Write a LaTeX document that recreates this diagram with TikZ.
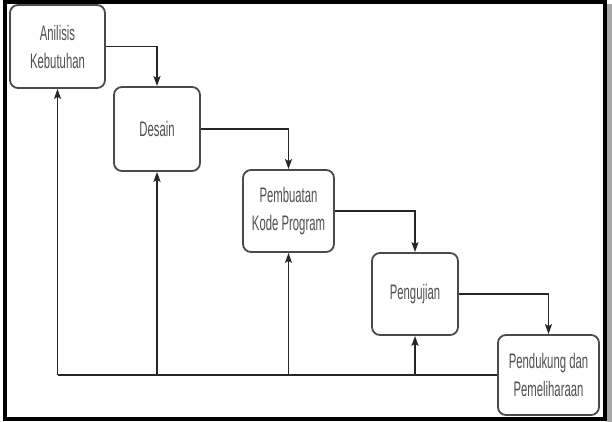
\documentclass[tikz,border=0pt]{standalone}
\usepackage{fontspec}
\setmainfont{Liberation Sans}[FakeStretch=0.54]
\usetikzlibrary{arrows.meta}
\definecolor{boxline}{HTML}{4A4A4A}
\definecolor{txt}{HTML}{505050}
\tikzset{
  stepbox/.style={draw=boxline, line width=1.8pt, rounded corners=8pt, fill=white,
    align=center, text=txt, inner sep=0pt,
    font=\fontsize{21}{28}\selectfont},
  conn/.style={line width=1.4pt, draw=black!85},
  tip/.style={-{Stealth[length=10pt,width=7pt,inset=2pt]}},
}
\begin{document}
\begin{tikzpicture}[x=1pt,y=-1pt]
\useasboundingbox (0,0) rectangle (612,422);
\fill[black!35] (607,4) rectangle (612,422);
\draw[line width=4pt] (5,2) rectangle (605,419);

\node[stepbox, minimum width=95pt, minimum height=83pt] (A) at (57.5,46.5) {Anilisis\\Kebutuhan};
\node[stepbox, minimum width=86pt, minimum height=84pt] (D) at (157,129) {Desain};
\node[stepbox, minimum width=91pt, minimum height=82pt] (P) at (288.5,211) {Pembuatan\\Kode Program};
\node[stepbox, minimum width=86pt, minimum height=82pt] (U) at (415,294) {Pengujian};
\node[stepbox, minimum width=101pt, minimum height=80pt] (M) at (548.5,375) {Pendukung dan\\Pemeliharaan};

\draw[conn, tip] (A.east) -| (D.north);
\draw[conn, tip] (D.east) -| (P.north);
\draw[conn, tip] (P.east) -| (U.north);
\draw[conn, tip] (U.east) -| (M.north);

\coordinate (bA) at (A.south |- M.west);
\coordinate (bD) at (D.south |- M.west);
\coordinate (bP) at (P.south |- M.west);
\coordinate (bU) at (U.south |- M.west);
\draw[conn] (M.west) -- (bA);
\draw[conn, tip] (bA) -- (A.south);
\draw[conn, tip] (bD) -- (D.south);
\draw[conn, tip] (bP) -- (P.south);
\draw[conn, tip] (bU) -- (U.south);
\end{tikzpicture}
\end{document}
